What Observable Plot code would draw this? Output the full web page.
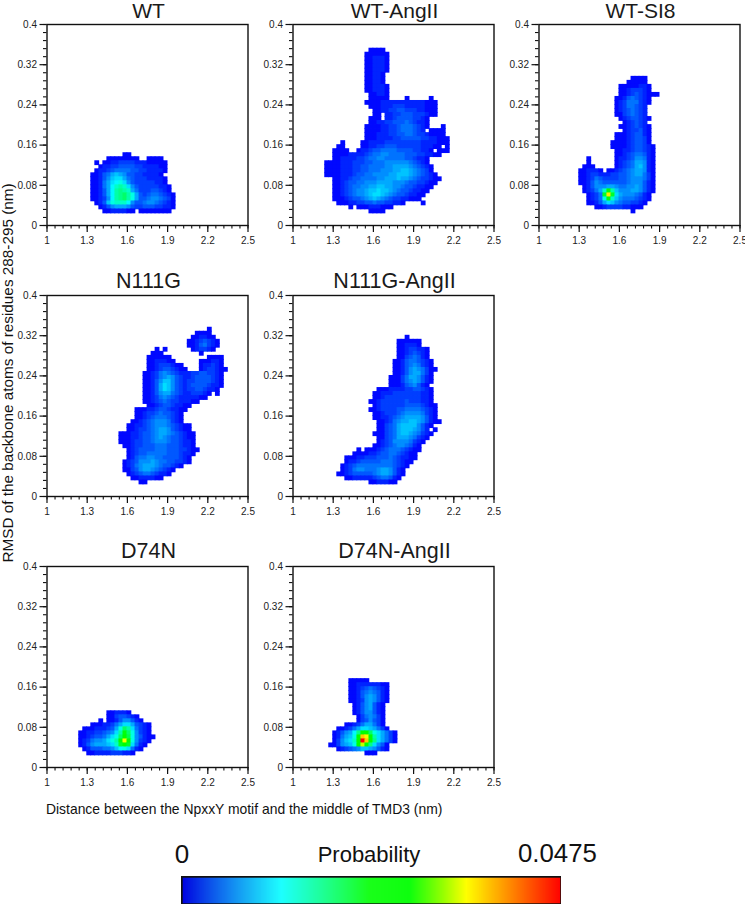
<!DOCTYPE html>
<html>
<head>
<meta charset="utf-8">
<script src="https://cdn.jsdelivr.net/npm/d3@7"></script>
<script src="https://cdn.jsdelivr.net/npm/@observablehq/plot@0.6"></script>
<style>
html,body{margin:0;padding:0;background:#fff;overflow:hidden}
#page{position:relative;width:745px;height:904px;overflow:hidden;font-family:"Liberation Sans",Arial,sans-serif;color:#111}
#page svg{position:absolute;background:none}
.lbl{position:absolute;white-space:nowrap;line-height:1}
.heat{filter:blur(0.6px)}
</style>
</head>
<body>
<div id="page"></div>
<script>
// Grid of the histograms
const xDomain = [1, 2.5], yDomain = [0, 0.4];
const xBin = 0.03, yBin = 0.008;
const maxProb = 0.0475;
const levelUnit = maxProb / 35; // base-36 character in the rows = probability / levelUnit
const xMajor = [1, 1.3, 1.6, 1.9, 2.2, 2.5];
const yMajor = [0, 0.08, 0.16, 0.24, 0.32, 0.4];
const xMinor = d3.range(0, 26).map(i => +(1 + i * 0.06).toFixed(2));
const yMinor = d3.range(0, 26).map(i => +(i * 0.016).toFixed(3));
const colorStops = [0, 0.0125, 0.0235, 0.0285, 0.0356, 0.0475];
const colorRange = ["#0008ff", "#00ffff", "#00ff00", "#00ff00", "#ffff00", "#ff0000"];

// Each row: [first column, levels]; rows run from the top row of the blob downward
const WT_top = 17;
const WT = [
[19,"00"],
[15,"00000000..0000"],
[12,"0.0011222211100000"],
[13,"01122333322111100"],
[12,"011234444332211110"],
[11,"001346765332211110"],
[11,"0013578864322211110"],
[11,"0014689a85322222110"],
[11,"001469bcb85322222110"],
[11,"001369cdcb6422233210"],
[11,"001369cdeca6323443210"],
[11,"001259cdeca6334554320"],
[12,"0137abbb953345543210"],
[13,"0135666532233322110"],
[14,"00111100.00000000"]];

const WTAngII_top = 43;
const WTAngII = [
[19,"0000"],
[18,"000000"],
[18,"001110"],
[18,"001110"],
[18,"001110"],
[18,"001110"],
[18,"00110"],
[18,"00110"],
[18,"00110"],
[18,"001110"],
[18,"001110"],
[19,"00110"],
[19,"00000....0.....0"],
[18,"000011111111111000"],
[19,"00011122211111000"],
[20,"0011223322211000"],
[20,"00.1122333222100"],
[19,"000.11233332210"],
[19,"001122333432110"],
[18,"0000112234443210...0"],
[18,"000011223444321.0000"],
[18,"00011122334432210000"],
[18,"000111122333332211000"],
[12,"0....0011112222222221111000"],
[11,"00....00112233322222211100.0"],
[10,"0000..0112334444333322110.000"],
[10,"000011112344554444333221100"],
[10,"001111223445544444332110"],
[8,"00001112223344455555543210"],
[8,"000011122334444556666543210"],
[8,"000011122334445556677654320"],
[8,"0000111233445555667776543210"],
[10,"001123344445566676654322100"],
[10,"00123344555666655543322100"],
[10,"0012344556677665543321100"],
[10,"001234556778776543321100"],
[10,"00123455678876543321100"],
[10,"0001233456765432211000"],
[11,"00011223343322110....0"],
[14,"0.000111000"],
[19,"0000"]];

const WTSI8_top = 36;
const WTSI8 = [
[23,"0000"],
[22,"00000"],
[20,"00000110"],
[20,"00122210"],
[20,"0012321000"],
[19,"001343210"],
[19,"012444210"],
[19,"01244321"],
[19,"01234321"],
[19,"00234321"],
[20,"01233210"],
[21,"012321"],
[20,"00123210"],
[21,"0122310"],
[19,"000123310"],
[19,"000123320"],
[18,"0000123320"],
[18,"00001233210"],
[19,"0011233210"],
[19,"0012344310"],
[12,"0......0112355410"],
[12,"0......0123466510"],
[11,"000.....0123467510"],
[10,"001110.001234566510"],
[10,"0012211122334566420"],
[10,"0012432222334555420"],
[10,"0013543333334555310"],
[11,"013555665445565310"],
[11,"01246bhc7555665310"],
[12,"0124grg865554310"],
[12,"0124ahb754443210"],
[12,"001368754332210"],
[14,"001222211000"],
[23,"0"]];

const N111G_top = 41;
const N111G = [
[40,"0"],
[37,"0000"],
[36,"001100"],
[35,"00123210"],
[35,"00134210"],
[27,"0.0......012210"],
[26,"000.........0"],
[25,"000000.........0000"],
[25,"0011100......000110"],
[25,"001222100....011210"],
[25,"0012332100...0122100"],
[24,"00124543211122332210"],
[24,"00124565321123333210"],
[24,"00135775321223333210"],
[24,"00136875321233332110"],
[24,"0013687532122332110"],
[24,"00135664321122210.0"],
[24,"0012454321111100"],
[24,"00123432211100"],
[25,"00123321100"],
[22,"0001123321100"],
[22,"001223433210"],
[22,"001234443210"],
[21,"0012345554210"],
[20,"0011234555432100"],
[20,"0012234566532100"],
[18,"0001123345665432100"],
[18,"0001123345654332100"],
[18,"0001223345554332110"],
[19,"001223334443332110"],
[20,"012333344433322100"],
[20,"01233444443332110"],
[20,"0134455443333210"],
[19,"01235556544332210"],
[19,"012456665433210"],
[19,"0023566543210"],
[20,"01234432110"],
[21,"00111100"],
[23,"00"]];

const N111GAngII_top = 39;
const N111GAngII = [
[28,"0"],
[26,"000000"],
[26,"001110"],
[26,"00122110"],
[26,"00123210"],
[26,"00234310"],
[25,"0013443210"],
[25,"0013454210"],
[25,"00135654200"],
[25,"0013566420"],
[24,"00024665310"],
[24,"00024565310"],
[24,"0001345310"],
[21,"00011112233210"],
[20,"001112222222110"],
[20,"001222222222110"],
[19,"0012222223222110"],
[20,"0122222233332100"],
[19,"00122223344443210"],
[20,"0012223455554210"],
[20,"0011234566665310"],
[21,"0012456677653100"],
[21,"00234677775310"],
[21,"0023467776531.0"],
[20,"000234677654210"],
[21,"0023466654210"],
[21,"012355554210"],
[20,"001234554310"],
[16,"0.00012344432100"],
[15,"0000112334432100"],
[13,"000112223334321100"],
[13,"01123333344432100"],
[12,"01234444444443210"],
[12,"0124554445665310"],
[11,"00123333345665310"],
[13,"00111112344310"],
[19,"0011100"]];

const D74N_top = 13;
const D74N = [
[15,"001110"],
[15,"00233210"],
[13,"0.001355310"],
[11,"000112468863210"],
[9,"000111236aec84210"],
[8,"0011223458chea5210"],
[8,"001233468aejfa53100"],
[8,"01245568acjqja5210"],
[8,"013566678bgkg8410"],
[9,"0133344579a8410"],
[10,"001111222110"]];

const D74NAngII_top = 21;
const D74NAngII = [
[14,"00000"],
[14,"0011111100"],
[14,"0012343210"],
[14,"0013454310"],
[14,"0013565310"],
[14,"0012565310"],
[15,"01356310"],
[15,"01356310"],
[15,"01355310"],
[16,"0245420"],
[16,"0235320"],
[13,"0012466420"],
[11,"0012468876420"],
[10,"013569diiea86420"],
[10,"01467ajsqjc86420"],
[10,"02578blzsjd86420"],
[9,"002567aipld8530"],
[11,"0123457765310"],
[18,"000"]];

const panelTitles = ["WT","WT-AngII","WT-SI8","N111G","N111G-AngII","D74N","D74N-AngII"];
const panelRows = [WT,WTAngII,WTSI8,N111G,N111GAngII,D74N,D74NAngII];
const panelTopRow = [WT_top,WTAngII_top,WTSI8_top,N111G_top,N111GAngII_top,D74N_top,D74NAngII_top];
const panelLeft = [46.5,292.7,538.7,46.5,292.7,46.5,292.7];
const panelTop = [23.5,23.5,23.5,295,295,566,566];

const FONT = '"Liberation Sans",Arial,sans-serif';
const page = document.getElementById("page");
const mLeft = 46.5, mTop = 24, pW = 201, pH = 201;

function decode(rows, topRow){
  const out = [];
  rows.forEach(([c0,s],i)=>{
    const r = topRow - i;
    [...s].forEach((ch,k)=>{
      if(ch === ".") return;
      const col = c0 + k;
      out.push({x1:xDomain[0]+col*xBin, x2:xDomain[0]+(col+1)*xBin, y1:r*yBin, y2:(r+1)*yBin, p:parseInt(ch,36)*levelUnit});
    });
  });
  return out;
}

panelTitles.forEach((title,i)=>{
  const fig = Plot.plot({
    width: mLeft + pW + 5.5, height: mTop + pH + 30,
    marginLeft: mLeft, marginRight: 5.5, marginTop: mTop, marginBottom: 30,
    x:{domain:xDomain, label:null}, y:{domain:yDomain, label:null},
    color:{type:"linear", domain:colorStops, range:colorRange, interpolate:"rgb", clamp:true},
    style:{fontFamily:FONT, background:"none", overflow:"visible"},
    marks:[
      Plot.rect(decode(panelRows[i],panelTopRow[i]),{x1:"x1",x2:"x2",y1:"y1",y2:"y2",fill:"p",inset:-0.4,className:"heat"}),
      Plot.axisX({ticks:xMinor,tickSize:3.5,tickFormat:()=>"",anchor:"bottom",label:null,strokeWidth:1.1,stroke:"#111"}),
      Plot.axisY({ticks:yMinor,tickSize:3.5,tickFormat:()=>"",anchor:"left",label:null,strokeWidth:1.1,stroke:"#111"}),
      Plot.axisX({ticks:xMajor,tickSize:7,tickPadding:4,tickFormat:d=>String(d),anchor:"bottom",label:null,fontSize:10,strokeWidth:1.2,stroke:"#111",fill:"#222"}),
      Plot.axisY({ticks:yMajor,tickSize:7,tickPadding:3,tickFormat:d=>String(d),anchor:"left",label:null,fontSize:10,strokeWidth:1.2,stroke:"#111",fill:"#222"}),
      Plot.frame({stroke:"#111",strokeWidth:1.4}),
      Plot.text([title],{frameAnchor:"top",dy:i>=5?-9:(i<3?-6.5:-7.5),dx:1,lineAnchor:"bottom",fontSize:i<3?21:21.5,fill:"#1a1a1a"})
    ]
  });
  fig.style.left = (panelLeft[i]-mLeft)+"px";
  fig.style.top = (panelTop[i]-mTop)+"px";
  page.appendChild(fig);
});

// Axis titles
const yTitle = "RMSD of the backbone atoms of residues 288-295 (nm)";
const xTitle = "Distance between the NpxxY motif and the middle of TMD3 (nm)";
const legendTitle = "Probability";

function label(t,x,y,size,extra){
  const d = document.createElement("div");
  d.className = "lbl"; d.textContent = t;
  d.style.left = x+"px"; d.style.top = y+"px"; d.style.fontSize = size+"px";
  if(extra) Object.assign(d.style,extra);
  page.appendChild(d);
  return d;
}
label(yTitle,8,373,15.3,{transform:"translate(-50%,-50%) rotate(-90deg)"});
label(xTitle,46,802.5,13.9);
label("0",182,840.5,26,{transform:"translateX(-50%)"});
label(legendTitle,369,844,22,{transform:"translateX(-50%)"});
label(String(maxProb),518,840.5,25.8);

// Colour bar
const barSteps = d3.range(0,maxProb,maxProb/379);
const bar = Plot.plot({
  width:380,height:28,margin:0,
  x:{domain:[0,maxProb],axis:null},y:{domain:[0,1],axis:null},
  color:{type:"linear",domain:colorStops,range:colorRange.map((c,i)=>i==0?"#0000e0":c),interpolate:"rgb",clamp:true},
  style:{background:"none"},
  marks:[
    Plot.rect(barSteps,{x1:d=>d,x2:d=>d+maxProb/379*1.3,y1:0,y2:1,fill:d=>d,inset:0}),
    Plot.frame({stroke:"#111",strokeWidth:2.4})
  ]
});
bar.style.left="181px"; bar.style.top="875.5px";
page.appendChild(bar);
</script>
</body>
</html>
